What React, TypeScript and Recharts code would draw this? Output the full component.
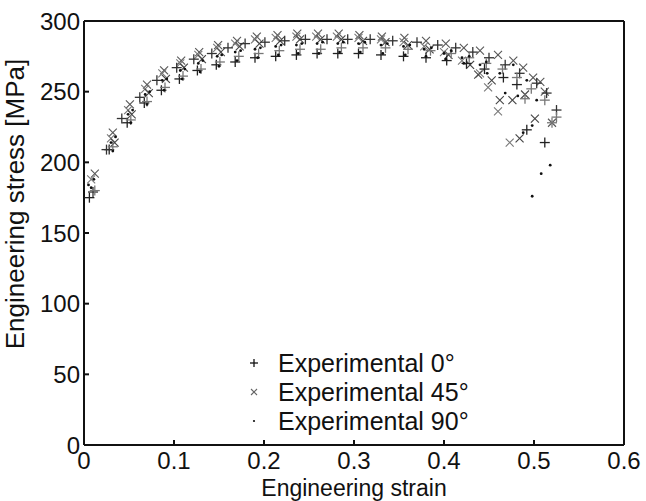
import { ScatterChart, Scatter, XAxis, YAxis, Legend, Label } from "recharts"

const xTicks = [0, 0.1, 0.2, 0.3, 0.4, 0.5, 0.6]
const yTicks = [0, 50, 100, 150, 200, 250, 300]
const seriesNames = ["Experimental 0°", "Experimental 45°", "Experimental 90°"]

// 0 deg specimens (+)
const strain0A = [0.006, 0.028, 0.048, 0.067, 0.086, 0.106, 0.126, 0.147, 0.168, 0.19, 0.213, 0.236, 0.259, 0.282, 0.305, 0.33, 0.355, 0.38, 0.403, 0.425, 0.445, 0.466, 0.481, 0.492, 0.512]
const stress0A = [175, 209, 228, 242, 251, 259, 265, 269, 271, 274, 275, 276, 277, 277, 277, 276, 275, 274, 272, 270, 266, 260, 255, 223, 214]
const strain0B = [0.01, 0.025, 0.042, 0.062, 0.081, 0.103, 0.122, 0.142, 0.16, 0.179, 0.201, 0.223, 0.246, 0.27, 0.293, 0.318, 0.343, 0.37, 0.393, 0.413, 0.432, 0.45, 0.468, 0.484, 0.503, 0.514, 0.525]
const stress0B = [179, 209, 231, 246, 258, 267, 273, 277, 281, 284, 285, 286, 287, 287, 287, 287, 286, 285, 283, 281, 278, 274, 269, 263, 256, 249, 237]
const strain0C = [0.012, 0.032, 0.052, 0.07, 0.09, 0.11, 0.13, 0.151, 0.172, 0.194, 0.217, 0.24, 0.263, 0.286, 0.31, 0.335, 0.36, 0.385, 0.408, 0.428, 0.447, 0.465, 0.481, 0.49, 0.497, 0.512, 0.52, 0.525]
const stress0C = [180, 211, 230, 243, 253, 261, 266, 271, 275, 277, 279, 280, 280, 281, 281, 281, 280, 279, 277, 274, 270, 266, 260, 245, 252, 244, 228, 232]

// 45 deg specimens (x)
const strain45A = [0.012, 0.032, 0.051, 0.07, 0.089, 0.108, 0.128, 0.149, 0.17, 0.192, 0.215, 0.237, 0.26, 0.283, 0.306, 0.331, 0.356, 0.38, 0.402, 0.422, 0.44, 0.46, 0.477, 0.488, 0.499, 0.507, 0.512, 0.52]
const stress45A = [192, 221, 241, 255, 265, 272, 278, 283, 286, 289, 290, 291, 291, 291, 290, 289, 288, 286, 284, 281, 279, 276, 272, 267, 260, 257, 250, 228]
const strain45B = [0.008, 0.03, 0.049, 0.068, 0.087, 0.107, 0.127, 0.148, 0.168, 0.19, 0.213, 0.236, 0.258, 0.281, 0.305, 0.33, 0.355, 0.378, 0.4, 0.42, 0.44, 0.449, 0.46, 0.473]
const stress45B = [188, 217, 237, 252, 263, 270, 276, 281, 284, 287, 288, 289, 289, 289, 288, 287, 285, 282, 278, 272, 263, 253, 236, 214]
const strain45C = [0.034, 0.053, 0.072, 0.091, 0.111, 0.131, 0.152, 0.173, 0.195, 0.218, 0.24, 0.263, 0.286, 0.31, 0.335, 0.36, 0.384, 0.405, 0.429, 0.438, 0.453, 0.462, 0.476, 0.484, 0.49, 0.501]
const stress45C = [214, 234, 249, 259, 267, 273, 278, 282, 284, 286, 287, 287, 287, 286, 285, 283, 280, 276, 269, 262, 258, 244, 244, 217, 248, 231]

// 90 deg specimens (dots)
const strain90A = [0.005, 0.03, 0.049, 0.068, 0.087, 0.107, 0.127, 0.148, 0.168, 0.19, 0.213, 0.236, 0.259, 0.282, 0.305, 0.33, 0.355, 0.378, 0.4, 0.42, 0.44, 0.462, 0.482, 0.498, 0.508]
const stress90A = [184, 214, 234, 248, 258, 265, 270, 275, 278, 280, 282, 283, 284, 284, 284, 283, 282, 280, 277, 274, 269, 263, 247, 226, 192]
const strain90B = [0.008, 0.032, 0.052, 0.07, 0.089, 0.109, 0.129, 0.15, 0.17, 0.193, 0.216, 0.238, 0.261, 0.284, 0.307, 0.332, 0.357, 0.38, 0.402, 0.422, 0.448, 0.468, 0.488, 0.498]
const stress90B = [182, 208, 228, 241, 251, 259, 264, 268, 272, 274, 276, 277, 277, 278, 278, 277, 276, 275, 273, 270, 263, 249, 221, 176]
const strain90C = [0.011, 0.035, 0.054, 0.073, 0.092, 0.112, 0.132, 0.153, 0.174, 0.196, 0.219, 0.242, 0.265, 0.288, 0.312, 0.337, 0.362, 0.386, 0.408, 0.428, 0.447, 0.477, 0.492, 0.503, 0.518]
const stress90C = [188, 218, 237, 250, 259, 266, 272, 276, 279, 281, 283, 284, 285, 285, 285, 284, 283, 281, 279, 275, 271, 269, 258, 244, 198]

const zip = (xs: number[], ys: number[]) => xs.map((x, i) => ({ x, y: ys[i] }))

const font = "'Liberation Sans', Arial, sans-serif"
const textColor = "#111"

const plusShape = (color: string, s = 5) => (props: any) => {
  const { cx, cy } = props
  return (
    <g stroke={color} strokeWidth={1.3}>
      <line x1={cx - s} y1={cy} x2={cx + s} y2={cy} />
      <line x1={cx} y1={cy - s} x2={cx} y2={cy + s} />
    </g>
  )
}

const crossShape = (color: string, s = 4) => (props: any) => {
  const { cx, cy } = props
  return (
    <g stroke={color} strokeWidth={1.1}>
      <line x1={cx - s} y1={cy - s} x2={cx + s} y2={cy + s} />
      <line x1={cx - s} y1={cy + s} x2={cx + s} y2={cy - s} />
    </g>
  )
}

const dotShape = (color: string, r = 1.4) => (props: any) => {
  const { cx, cy } = props
  return <circle cx={cx} cy={cy} r={r} fill={color} />
}

const renderLegend = () => (
  <svg width={260} height={90} style={{ overflow: "visible" }}>
    {seriesNames.map((name, i) => {
      const cy = 15 + i * 29
      return (
        <g key={name}>
          {i === 0 && plusShape("#111", 4)({ cx: 14, cy })}
          {i === 1 && crossShape("#666", 3)({ cx: 14, cy })}
          {i === 2 && dotShape("#111", 1.1)({ cx: 14, cy })}
          <text x={38} y={cy + 9} fontSize={25} fontFamily={font} fill={textColor}>
            {name}
          </text>
        </g>
      )
    })}
  </svg>
)

const renderYLabel = () => (
  <text
    transform="translate(24,204) rotate(-90)"
    textAnchor="middle"
    fontSize={26}
    fontFamily={font}
    fill={textColor}
  >
    Engineering stress [MPa]
  </text>
)

export default function App() {
  return (
    <div style={{ position: "absolute", left: 0, top: 0, width: 646, height: 501, background: "#fff" }}>
      <ScatterChart
        width={646}
        height={501}
        margin={{ top: 20, right: 21, bottom: 0, left: 0 }}
        style={{ fontFamily: font }}
      >
        <XAxis
          type="number"
          dataKey="x"
          domain={[0, 0.6]}
          ticks={xTicks}
          height={56}
          tickSize={-5}
          tickMargin={12}
          tick={{ fontSize: 24, fill: textColor }}
          tickFormatter={(v: number) => String(v)}
          axisLine={{ stroke: "#111", strokeWidth: 2 }}
          tickLine={{ stroke: "#111", strokeWidth: 2 }}
        >
          <Label value="Engineering strain" position="insideBottom" offset={5} fontSize={23} fill={textColor} />
        </XAxis>
        <XAxis
          xAxisId="top"
          orientation="top"
          type="number"
          dataKey="x"
          domain={[0, 0.6]}
          ticks={xTicks}
          height={1}
          tickSize={-5}
          tick={false}
          axisLine={{ stroke: "#111", strokeWidth: 2 }}
          tickLine={{ stroke: "#111", strokeWidth: 2 }}
        />
        <YAxis
          type="number"
          dataKey="y"
          domain={[0, 300]}
          ticks={yTicks}
          width={84}
          tickSize={-5}
          tickMargin={9}
          tick={{ fontSize: 24, fill: textColor }}
          axisLine={{ stroke: "#111", strokeWidth: 2 }}
          tickLine={{ stroke: "#111", strokeWidth: 2 }}
        >
          <Label content={renderYLabel} />
        </YAxis>
        <YAxis
          yAxisId="right"
          orientation="right"
          type="number"
          dataKey="y"
          domain={[0, 300]}
          ticks={yTicks}
          width={1}
          tickSize={-5}
          tick={false}
          axisLine={{ stroke: "#111", strokeWidth: 2 }}
          tickLine={{ stroke: "#111", strokeWidth: 2 }}
        />
        <Scatter name={seriesNames[1]} data={zip(strain45A, stress45A)} shape={crossShape("#555")} isAnimationActive={false} />
        <Scatter name={seriesNames[1]} data={zip(strain45B, stress45B)} shape={crossShape("#777")} isAnimationActive={false} />
        <Scatter name={seriesNames[1]} data={zip(strain45C, stress45C)} shape={crossShape("#444")} isAnimationActive={false} />
        <Scatter name={seriesNames[0]} data={zip(strain0A, stress0A)} shape={plusShape("#222")} isAnimationActive={false} />
        <Scatter name={seriesNames[0]} data={zip(strain0B, stress0B)} shape={plusShape("#333")} isAnimationActive={false} />
        <Scatter name={seriesNames[0]} data={zip(strain0C, stress0C)} shape={plusShape("#777")} isAnimationActive={false} />
        <Scatter name={seriesNames[2]} data={zip(strain90A, stress90A)} shape={dotShape("#111")} isAnimationActive={false} />
        <Scatter name={seriesNames[2]} data={zip(strain90B, stress90B)} shape={dotShape("#111")} isAnimationActive={false} />
        <Scatter name={seriesNames[2]} data={zip(strain90C, stress90C)} shape={dotShape("#111")} isAnimationActive={false} />
        <Legend
          layout="vertical"
          align="center"
          verticalAlign="middle"
          wrapperStyle={{ left: 240, top: 348, width: 260, height: 90 }}
          content={renderLegend}
        />
      </ScatterChart>
    </div>
  )
}
